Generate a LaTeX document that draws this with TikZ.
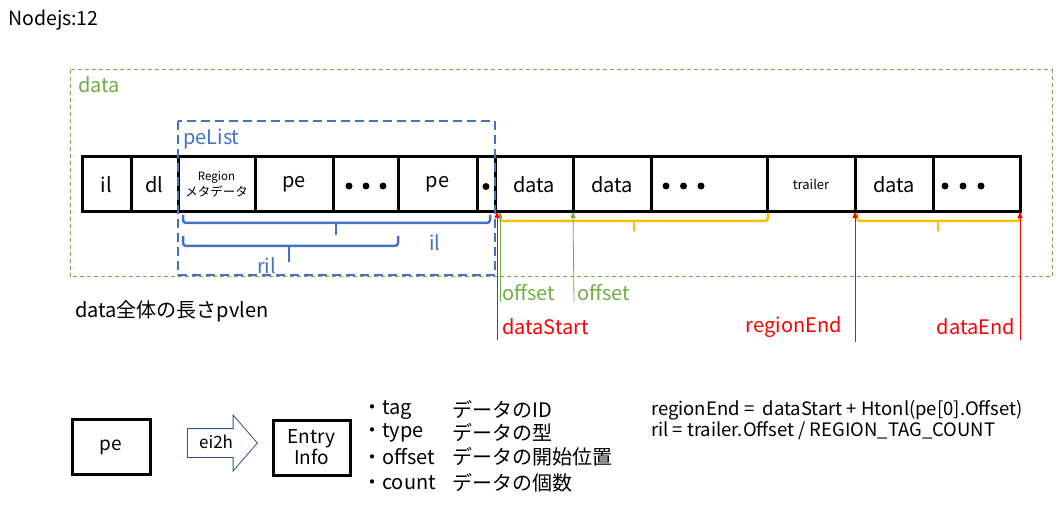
\documentclass[tikz,border=0pt]{standalone}
\usepackage{fontspec}
\setmainfont{Noto Sans CJK JP}
\usetikzlibrary{arrows.meta,positioning,shapes.arrows}
\definecolor{peblue}{HTML}{4472C4}
\definecolor{areagreen}{HTML}{70AD47}
\definecolor{spanorange}{HTML}{FFC000}
\definecolor{markred}{HTML}{FF0000}
\definecolor{arrowedge}{HTML}{2F528F}
\newcommand{\px}[1]{\fontsize{#1}{#1}\selectfont}

\tikzset{
  cell/.style={draw, line width=3pt, minimum height=55pt, inner sep=0pt, outer sep=0pt, font=\px{20}},
  brace/.style={line width=2.5pt, rounded corners=3pt},
  pointer/.style={-{Triangle[length=6pt,width=5pt]}, line width=0.8pt},
  tag/.style={anchor=west, inner sep=0pt, font=\px{20}},
}

\begin{document}
\begin{tikzpicture}[x=1pt, y=-1pt]
    \useasboundingbox (0,0) rectangle (1064,526);

    \node[tag, font=\px{19.5}] (title) at (8,20) {Nodejs:12};

    % Whole data area
    \draw[areagreen, line width=1pt, dash pattern=on 4pt off 3pt] (70,70) rectangle (1052,277);
    \node[tag, text=areagreen] (datalabel) at (78,85) {data};

    % Memory layout
    \foreach \a/\b/\t/\n in {82/131/il/c1, 131/178/dl/c2, 255/333/pe/c4, 333/398/{}/c5,
                             398/477/pe/c6, 477/495/{}/c7, 495/573/data/c8, 573/651/data/c9,
                             651/767/{}/c10, 855/933/data/c12, 933/1020/{}/c13} {
        \node[cell, minimum width={(\b-\a)*1pt}] (\n) at ({(\a+\b)/2},184.5) {\t};
    }
    \node[cell, minimum width=77pt, align=center, font=\px{11.5}] (c3) at (216.5,184.5)
        {Region\\[1pt]{\px{12.5}メタデータ}};
    \node[cell, minimum width=88pt, font=\px{13}] (c11) at (811,184.5) {trailer};

    % Dots
    \foreach \d in {0,1,2} {
        \fill ([xshift={16+17*\d}]c5.west) ++(0,1.5) circle (3.5);
        \fill ([xshift={15+17.5*\d}]c10.west) ++(0,1.5) circle (3.5);
        \fill ([xshift={12+18*\d}]c13.west) ++(0,1.5) circle (3.5);
    }
    \fill (c7.center) ++(0,2) circle (3.5);

    % peList
    \draw[peblue, line width=2.5pt, dash pattern=on 9pt off 5pt] (178,121) rectangle (495,275);
    \node[tag, text=peblue] (pelist) at (183,139) {peList};

    \draw[brace, peblue] (183,215) -- (183,223) -- (490,223) -- (490,215);
    \draw[brace, peblue] (336,223) -- (336,235);
    \draw[brace, peblue] (183,236) -- (183,246) -- (398,246) -- (398,236);
    \draw[brace, peblue] (289,246) -- (289,262);
    \node[tag, text=peblue] (illabel) at (429,243) {il};
    \node[tag, text=peblue] (rillabel) at (257,266) {ril};

    % Data spans
    \draw[brace, spanorange] (500,213) -- (500,221) -- (768,221) -- (768,213);
    \draw[brace, spanorange] (634,221) -- (634,231);
    \draw[brace, spanorange] (857,213) -- (857,221) -- (1020,221) -- (1020,213);
    \draw[brace, spanorange] (938,221) -- (938,231);

    % Offsets
    \node[tag, text=areagreen] (off1) at (502,293) {offset};
    \node[tag, text=areagreen] (off2) at (577,293) {offset};
    \coordinate (off1foot) at (500,302);
    \coordinate (off2foot) at (574,302);
    \draw[pointer, areagreen] (off1foot) -- ([xshift=5pt]c8.south west);
    \draw[pointer, areagreen] (off2foot) -- (c9.south west);

    % Positions
    \node[tag, text=markred] (dstart) at (502,327) {dataStart};
    \node[tag, text=markred, anchor=east] (rend) at (842,327) {regionEnd};
    \node[tag, text=markred, anchor=east] (dend) at (1015,327) {dataEnd};
    \coordinate (dstartfoot) at (497,340);
    \coordinate (rendfoot) at (855,342);
    \coordinate (dendfoot) at (1020,340);
    \draw[pointer, markred] (dstartfoot) -- ([xshift=2pt]c8.south west);
    \draw[pointer, markred] (rendfoot) -- (c12.south west);
    \draw[pointer, markred] (dendfoot) -- (c13.south east);

    \node[tag] (pvlen) at (75,311) {data全体の長さpvlen};

    % Entry conversion
    \node[draw, line width=3pt, minimum width=78pt, minimum height=55pt, font=\px{19}] (pebox) at (111,447) {pe};
    \node[single arrow, draw=arrowedge, line width=0.8pt, anchor=tail, minimum height=70pt,
          single arrow head extend=13.5pt, single arrow tip angle=98, text height=12pt, text depth=2pt,
          inner ysep=7pt, font=\px{17}] (ei2h) at (187,443) {ei2h};
    \node[draw, line width=3pt, minimum width=77pt, minimum height=55pt, align=center, font=\px{19}] (entry) at (311.5,447.5) {Entry\\Info};

    \foreach \k/\t/\y in {tag/データのID/410, type/データの型/433, offset/データの開始位置/457, count/データの個数/483} {
        \node[tag, font=\px{20}] at (362,\y) {・\k};
        \node[tag, font=\px{20}] at (452,\y) {\t};
    }

    \node[tag, font=\px{18.5}] (formula1) at (651,410) {regionEnd =\ \ dataStart + Htonl(pe[0].Offset)};
    \node[tag, font=\px{18.5}] (formula2) at (651,431) {ril = trailer.Offset / REGION\_TAG\_COUNT};

\end{tikzpicture}
\end{document}
